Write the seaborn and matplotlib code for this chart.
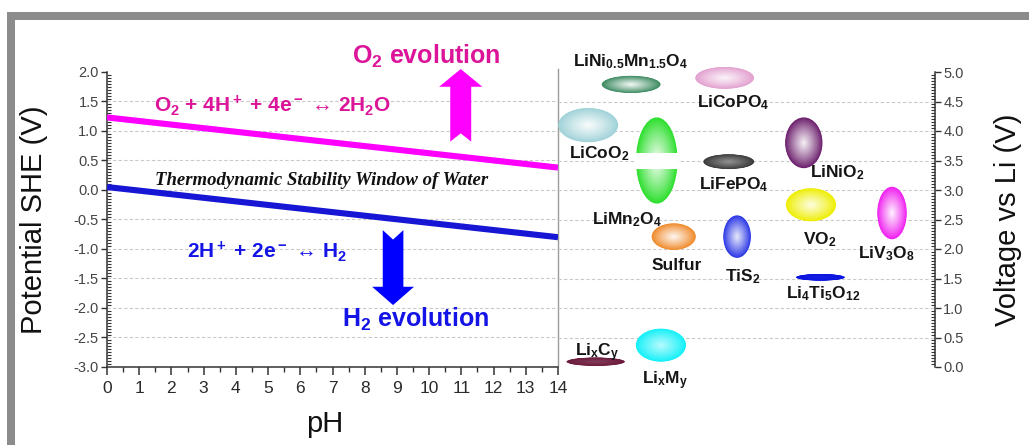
import numpy as np
import pandas as pd
import matplotlib
matplotlib.use("Agg")
import matplotlib.pyplot as plt
import seaborn as sns
from matplotlib.patches import Ellipse, Polygon, Rectangle
from matplotlib.ticker import MultipleLocator, FormatStrFormatter
from matplotlib.colors import to_rgb

# ---------------- data ----------------
ph = [0, 14]
e_o2 = [1.23, 0.38]      # O2 / H2O couple, V vs SHE
e_h2 = [0.05, -0.80]     # H+ / H2 couple, V vs SHE

ph_ticks = [0, 1, 2, 3, 4, 5, 6, 7, 8, 9, 10, 11, 12, 13, 14]
she_ticks = [-3.0, -2.5, -2.0, -1.5, -1.0, -0.5, 0.0, 0.5, 1.0, 1.5, 2.0]
li_ticks = [0.0, 0.5, 1.0, 1.5, 2.0, 2.5, 3.0, 3.5, 4.0, 4.5, 5.0]

materials = [
    r"LiNi$_{0.5}$Mn$_{1.5}$O$_4$", r"LiCoPO$_4$", r"LiCoO$_2$", r"LiMn$_2$O$_4$",
    r"LiFePO$_4$", r"LiNiO$_2$", r"VO$_2$", r"LiV$_3$O$_8$", "Sulfur", r"TiS$_2$",
    r"Li$_4$Ti$_5$O$_{12}$", r"Li$_x$M$_y$", r"Li$_x$C$_y$",
]
voltage_li = [4.79, 4.90, 4.10, 3.50, 3.48, 3.80, 2.75, 2.61, 2.21, 2.21, 1.52, 0.37, 0.09]
voltage_span = [0.29, 0.37, 0.58, 1.46, 0.25, 0.86, 0.56, 0.89, 0.45, 0.72, 0.11, 0.56, 0.14]

# ---------------- layout / style ----------------
blob_x = [0.194, 0.442, 0.080, 0.262, 0.453, 0.652, 0.671, 0.886, 0.307, 0.475, 0.696, 0.273, 0.100]
blob_w = [0.156, 0.156, 0.159, 0.110, 0.135, 0.099, 0.133, 0.078, 0.117, 0.073, 0.130, 0.133, 0.155]
blob_colors = ["#3b8a60", "#e3a0d0", "#9fd2d8", "#2ddf2d", "#3a3a3a", "#6c1e6c",
               "#eeee00", "#f01ef0", "#f08a2a", "#2a36e6", "#0a14e0", "#12f0f8", "#6c1a3c"]
blob_core = [0.95, 0.9, 0.95, 0.95, 0.45, 0.95, 0.9, 0.95, 0.95, 0.9, 0.05, 0.7, 0.15]
label_pos = [(0.193, 5.10), (0.464, 4.41), (0.110, 3.53), (0.183, 2.42), (0.466, 3.02),
             (0.740, 3.22), (0.695, 2.08), (0.870, 1.85), (0.316, 1.65), (0.489, 1.45),
             (0.703, 1.16), (0.284, -0.29), (0.103, 0.18)]

MAGENTA_LINE = "#ff00ff"
MAGENTA_TEXT = "#dc1499"
BLUE_LINE = "#1616d4"
BLUE_TEXT = "#1414e6"

sns.set_theme(style="ticks")
plt.rcParams["font.family"] = ["Liberation Sans", "DejaVu Sans"]
plt.rcParams["mathtext.fontset"] = "custom"
plt.rcParams["mathtext.rm"] = "Liberation Sans:bold"
plt.rcParams["mathtext.it"] = "Liberation Sans:italic:bold"
plt.rcParams["mathtext.bf"] = "Liberation Sans:bold"
plt.rcParams["mathtext.default"] = "rm"
plt.rcParams["axes.unicode_minus"] = False

W, H = 1029, 445
fig = plt.figure(figsize=(W / 100, H / 100), dpi=100)
fig.patch.set_facecolor("white")

x0, x14, xr = 107, 558, 935
ytop, ybot = 72, 367
ax = fig.add_axes([x0 / W, 1 - ybot / H, (x14 - x0) / W, (ybot - ytop) / H])
ax2 = fig.add_axes([x14 / W, 1 - ybot / H, (xr - x14) / W, (ybot - ytop) / H])
for a in (ax, ax2):
    a.set_facecolor("none")

# ---------------- left panel: water stability window ----------------
df = pd.DataFrame({
    "pH": ph + ph,
    "E": e_o2 + e_h2,
    "couple": ["O2"] * len(ph) + ["H2"] * len(ph),
})
sns.lineplot(data=df, x="pH", y="E", hue="couple",
             palette={"O2": MAGENTA_LINE, "H2": BLUE_LINE},
             linewidth=4.4, legend=False, ax=ax, zorder=4,
             solid_capstyle="butt")

ax.set_xlim(0, 14)
ax.set_ylim(-3, 2)
for lev in she_ticks[1:-1]:
    ax.axhline(lev, color="#c9c9c9", lw=0.8, ls=(0, (3, 2)), zorder=1)

ax.spines["top"].set_visible(False)
ax.spines["right"].set_color("#9a9a9a")
ax.spines["right"].set_linewidth(1.0)
ax.spines["right"].set_bounds(-3, 2.05)
for s in ("left", "bottom"):
    ax.spines[s].set_color("#333333")
    ax.spines[s].set_linewidth(1.1)

ax.set_xticks(ph_ticks)
ax.xaxis.set_minor_locator(MultipleLocator(0.5))
ax.set_yticks(she_ticks)
ax.yaxis.set_major_formatter(FormatStrFormatter("%.1f"))
ax.yaxis.set_minor_locator(MultipleLocator(0.05))
ax.tick_params(axis="x", which="major", direction="out", length=6, width=1.1,
               bottom=True, labelsize=12.5, pad=4, color="#333333", labelcolor="#2a2a2a")
ax.tick_params(axis="x", which="minor", direction="out", length=3.5, width=1.0,
               bottom=True, color="#333333")
ax.tick_params(axis="y", which="major", direction="out", length=4, width=1.0,
               left=True, right=False, labelsize=10.5, pad=2,
               color="#333333", labelcolor="#444444")
ax.tick_params(axis="y", which="minor", direction="in", length=3, width=0.8,
               left=True, right=False, color="#333333")

ax.set_xlabel("pH", fontsize=21, color="#111111")
ax.xaxis.set_label_coords(0.483, -0.145)
ax.set_ylabel("Potential SHE (V)", fontsize=21, color="#111111")
ax.yaxis.set_label_coords(-0.131, 0.5)


def vertical_arrow(axis, x, tail, tip, shaft_w, head_w, head_len, notch, color):
    """Block arrow with a notched tail, drawn in data units."""
    d = 1 if tip > tail else -1
    base = tip - d * head_len
    verts = [
        (x - shaft_w / 2, tail), (x, tail + d * notch), (x + shaft_w / 2, tail),
        (x + shaft_w / 2, base), (x + head_w / 2, base), (x, tip),
        (x - head_w / 2, base), (x - shaft_w / 2, base),
    ]
    axis.add_patch(Polygon(verts, closed=True, facecolor=color, edgecolor="none",
                           zorder=5, clip_on=False))


vertical_arrow(ax, 10.98, 0.82, 2.05, 0.65, 1.34, 0.30, 0.14, MAGENTA_LINE)
vertical_arrow(ax, 8.88, -0.68, -1.95, 0.64, 1.30, 0.31, 0.16, "#0000ff")

ax.text(9.9, 2.14, r"O$_2$ evolution", fontsize=18, fontweight="bold",
        color=MAGENTA_TEXT, ha="center", va="baseline")
ax.text(1.45, 1.32, r"O$_2$ + 4H$^+$ + 4e$^-$ ↔ 2H$_2$O", fontsize=15,
        fontweight="bold", color=MAGENTA_TEXT, ha="left", va="baseline", zorder=6)
ax.text(1.49, 0.085, "Thermodynamic Stability Window of Water", fontsize=13.5,
        family=["Liberation Serif", "DejaVu Serif"], fontweight="bold",
        fontstyle="italic", color="#111111", ha="left", va="baseline", zorder=6)
ax.text(2.48, -1.15, r"2H$^+$ + 2e$^-$ ↔ H$_2$", fontsize=15, fontweight="bold",
        color=BLUE_TEXT, ha="left", va="baseline", zorder=6)
ax.text(7.29, -2.32, r"H$_2$ evolution", fontsize=18, fontweight="bold",
        color=BLUE_TEXT, ha="left", va="baseline", zorder=6)

# ---------------- right panel: electrode materials vs Li ----------------
ax2.set_xlim(0, 1)
ax2.set_ylim(0, 5)
for lev in li_ticks[:-1]:
    ax2.axhline(lev, color="#c9c9c9", lw=0.8, ls=(0, (3, 2)), zorder=1)
for s in ("left", "top", "bottom"):
    ax2.spines[s].set_visible(False)
ax2.spines["right"].set_color("#333333")
ax2.spines["right"].set_linewidth(1.1)
ax2.set_xticks([])
ax2.yaxis.tick_right()
ax2.yaxis.set_label_position("right")
ax2.set_yticks(li_ticks)
ax2.yaxis.set_major_formatter(FormatStrFormatter("%.1f"))
ax2.yaxis.set_minor_locator(MultipleLocator(0.05))
ax2.tick_params(axis="y", which="major", direction="out", length=4, width=1.0,
                right=True, left=False, labelsize=10.5, pad=2,
                color="#333333", labelcolor="#444444")
ax2.tick_params(axis="y", which="minor", direction="in", length=3, width=0.8,
                right=True, left=False, color="#333333")
ax2.set_ylabel("Voltage vs Li (V)", fontsize=21, color="#111111")
ax2.yaxis.set_label_coords(1.157, 0.5)


def gradient_blob(axis, x, y, w, h, color, core, n=40):
    """Ellipse shaded from a light centre out to its edge colour."""
    base = np.array(to_rgb(color))
    for i in range(n):
        s = 1 - i / n
        t = core * (1 - s) ** 0.9
        c = base * (1 - t) + t
        axis.add_patch(Ellipse((x, y), w * s, h * s, facecolor=c, edgecolor="none",
                               zorder=3 + i * 0.001, clip_on=False))


for name, v, span, bx, bw, col, core, (lx, lv) in zip(
        materials, voltage_li, voltage_span, blob_x, blob_w, blob_colors,
        blob_core, label_pos):
    gradient_blob(ax2, bx, v, bw, span, col, core)
    ax2.text(lx, lv, name, fontsize=12.5, fontweight="bold", color="#151515",
             ha="center", va="baseline", zorder=6, clip_on=False)

# white band across the LiMn2O4 plateau region
ax2.add_patch(Rectangle((0.262 - 0.057, 3.36), 0.114, 0.27, facecolor="white",
                        edgecolor="none", zorder=3.5))

# ---------------- frame ----------------
frame = "#8c8c8c"
fig.add_artist(Rectangle((7 / W, 1 - 20 / H), 1 - 7 / W, 8 / H,
                         transform=fig.transFigure, facecolor=frame, edgecolor="none"))
fig.add_artist(Rectangle((7 / W, 0), 8 / W, 1 - 12 / H,
                         transform=fig.transFigure, facecolor=frame, edgecolor="none"))

fig.savefig("out.png", dpi=100, facecolor="white")
